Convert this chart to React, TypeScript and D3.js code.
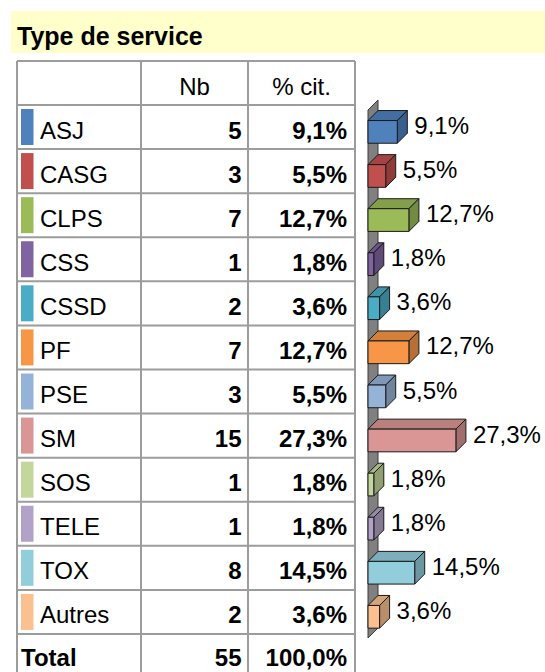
import React from "react";
import * as d3 from "d3";

const categories = ["ASJ", "CASG", "CLPS", "CSS", "CSSD", "PF", "PSE", "SM", "SOS", "TELE", "TOX", "Autres"];
const counts = [5, 3, 7, 1, 2, 7, 3, 15, 1, 1, 8, 2];
const percents = [9.1, 5.5, 12.7, 1.8, 3.6, 12.7, 5.5, 27.3, 1.8, 1.8, 14.5, 3.6];
const colors = ["#4F81BD", "#C0504D", "#9BBB59", "#8064A2", "#4BACC6", "#F79646", "#95B3D7", "#D99694", "#C3D69B", "#B3A2C7", "#92CDDC", "#FAC090"];
const totalCount = 55;
const totalPct = "100,0%";
const title = "Type de service";
const headers = ["Nb", "% cit."];

const fmt = (v: number) => v.toFixed(1).replace(".", ",") + "%";

export default function App() {
  const W = 545, H = 672;
  const font = "'Liberation Sans', Arial, sans-serif";
  const colX = [17, 141, 248, 355];
  const headerTop = 61;
  const y = d3.scaleBand<string>().domain(categories).range([105, 634]).padding(0);
  const x0 = 368;
  const x = d3.scaleLinear().domain([0, 30]).range([0, 96.6]);
  const dx = 10, dy = 10;
  const bh = 22.7;
  const grid = "#9c9c9c";
  const fs = 24;
  const rowLines = [headerTop, ...categories.map((c) => y(c) as number), 634];

  return (
    <svg width={W} height={H} style={{ position: "absolute", left: 0, top: 0 }} fontFamily={font}>
      <rect x={11} y={11} width={534} height={42} fill="#FFFFCC" />
      <text x={17} y={45} fontSize={25} fontWeight="bold" fill="#000">{title}</text>

      {/* table grid */}
      {rowLines.map((ly, i) => (
        <line key={"h" + i} x1={colX[0]} x2={colX[3]} y1={ly} y2={ly} stroke={grid} strokeWidth={2} />
      ))}
      {colX.map((cx, i) => (
        <line key={"v" + i} x1={cx} x2={cx} y1={headerTop} y2={H} stroke={grid} strokeWidth={2} />
      ))}
      <text x={(colX[1] + colX[2]) / 2} y={95} fontSize={fs} textAnchor="middle">{headers[0]}</text>
      <text x={(colX[2] + colX[3]) / 2} y={95} fontSize={fs} textAnchor="middle">{headers[1]}</text>

      {categories.map((c, i) => {
        const top = y(c) as number;
        const cy = top + y.bandwidth() / 2;
        return (
          <g key={c}>
            <rect x={21} y={top + 4} width={12.5} height={36} fill={colors[i]} />
            <text x={40} y={cy + 11.5} fontSize={fs}>{c}</text>
            <text x={241.5} y={cy + 11.5} fontSize={fs} fontWeight="bold" textAnchor="end">{counts[i]}</text>
            <text x={347} y={cy + 11.5} fontSize={fs} fontWeight="bold" textAnchor="end">{fmt(percents[i])}</text>
          </g>
        );
      })}
      <text x={21} y={666} fontSize={fs} fontWeight="bold">Total</text>
      <text x={241.5} y={666} fontSize={fs} fontWeight="bold" textAnchor="end">{totalCount}</text>
      <text x={347} y={666} fontSize={fs} fontWeight="bold" textAnchor="end">{totalPct}</text>

      {/* wall */}
      <polygon points={`${x0},110 ${x0 + dx},100 ${x0 + dx},628 ${x0},638`} fill="#808080" stroke="#3a3a3a" strokeWidth={1} />

      {categories.map((c, i) => {
        const top = y(c) as number;
        const cy = top + y.bandwidth() / 2;
        const fy = cy - 6.5;
        const w = x(percents[i]);
        const base = d3.color(colors[i])!;
        const topCol = base.darker(0.45).toString();
        const sideCol = base.darker(0.85).toString();
        const xr = x0 + w;
        return (
          <g key={"b" + c} stroke="#1a1a1a" strokeWidth={1} strokeLinejoin="round">
            <polygon points={`${x0},${fy} ${x0 + dx},${fy - dy} ${xr + dx},${fy - dy} ${xr},${fy}`} fill={topCol} />
            <polygon points={`${xr},${fy} ${xr + dx},${fy - dy} ${xr + dx},${fy + bh - dy} ${xr},${fy + bh}`} fill={sideCol} />
            <rect x={x0} y={fy} width={w} height={bh} fill={colors[i]} />
            <text x={xr + dx + 7} y={cy + 7} fontSize={fs} stroke="none" fill="#000">{fmt(percents[i])}</text>
          </g>
        );
      })}
    </svg>
  );
}
